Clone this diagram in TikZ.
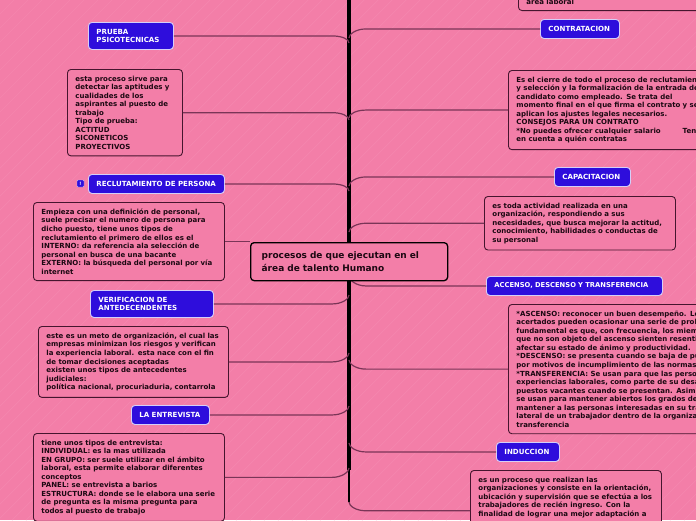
\documentclass[tikz,border=0pt]{standalone}
\usepackage{fontspec}
\setmainfont{DejaVu Sans}
\definecolor{bgpink}{HTML}{F37EA8}
\definecolor{stripe}{HTML}{F586AE}
\definecolor{topicblue}{HTML}{2E0DDC}
\definecolor{edgeline}{HTML}{7A3557}
\definecolor{boxline}{HTML}{45152E}
\definecolor{inkdark}{HTML}{1C0812}
\tikzset{
  txt/.style={font=\bfseries\fontsize{7}{8.55}\selectfont,text=inkdark,draw=boxline,line width=0.9pt,
    rounded corners=3.5pt,fill=bgpink,anchor=north west,align=left,inner xsep=8pt,inner ysep=6.3pt},
  topic/.style={font=\bfseries\fontsize{7.05}{8.55}\selectfont,text=white,draw=white!80!topicblue,line width=0.9pt,
    rounded corners=3.5pt,fill=topicblue,anchor=north west,align=left,inner xsep=8pt,inner ysep=0pt},
  central/.style={font=\bfseries\fontsize{9}{12.6}\selectfont,text=inkdark,draw=black,line width=1.3pt,
    rounded corners=3.5pt,fill=bgpink,anchor=north west,align=left,inner xsep=11pt,inner ysep=6pt},
  trunk/.style={draw=black,line width=3.2pt},
  trunkend/.style={draw=black,line width=1.8pt},
  edge/.style={draw=edgeline,line width=1.2pt},
}
\begin{document}
\begin{tikzpicture}[x=1pt,y=-1pt]
\useasboundingbox (0,0) rectangle (696,520);
\clip (0,0) rectangle (696,520);
\fill[bgpink] (0,0) rectangle (696,520);
\foreach \k in {0,14,...,1232}
  \draw[stripe,line width=0.7pt] (\k-520,520) -- (\k,0);

% trunk
\draw[trunk] (349,-2) -- (349,242);
\draw[trunk] (349,280) -- (349,470);
\coordinate (te) at (349,470);
\coordinate (tb) at (349,502);
\draw[trunkend] (te) -- (tb);

% nodes, left side
\node[topic,text width=69pt,minimum height=27pt] (pp) at (88,22) {PRUEBA\\PSICOTECNICAS};
\node[txt,text width=99pt] (ppt) at (67,69) {esta proceso sirve para\\detectar las aptitudes y\\cualidades de los\\aspirantes al puesto de\\trabajo\\Tipo de prueba:\\ACTITUD\\SICONETICOS\\PROYECTIVOS};
\node[topic,text width=120pt,minimum height=19pt] (rp) at (88,174) {RECLUTAMIENTO DE PERSONA};
\node[draw=white!70!topicblue,fill=topicblue,rounded corners=1pt,line width=0.4pt,minimum size=7pt,inner sep=0pt,text=white,font=\bfseries\fontsize{4.5}{5}\selectfont] (ic) at (80.5,183.5) {!};
\node[txt,text width=175pt] (rpt) at (33,202) {Empieza con una definición de personal,\\suele precisar el numero de persona para\\dicho puesto, tiene unos tipos de\\reclutamiento el primero de ellos es el\\INTERNO: da referencia ala selección de\\personal en busca de una bacante\\EXTERNO: la búsqueda del personal por vía\\internet};
\node[topic,text width=107pt,minimum height=27pt] (va) at (90,290) {VERIFICACION DE\\ANTEDECENDENTES};
\node[txt,text width=174pt] (vat) at (38,326) {este es un meto de organización, el cual las\\empresas minimizan los riesgos y verifican\\la experiencia laboral. esta nace con el fin\\de tomar decisiones aceptadas\\existen unos tipos de antecedentes\\judiciales:\\política nacional, procuriaduria, contarrola};
\node[topic,text width=62pt,minimum height=19pt] (le) at (131,405) {LA ENTREVISTA};
\node[txt,text width=175pt] (let) at (33,433) {tiene unos tipos de entrevista:\\INDIVIDUAL: es la mas utilizada\\EN GRUPO: ser suele utilizar en el ámbito\\laboral, esta permite elaborar diferentes\\conceptos\\PANEL: se entrevista a barios\\ESTRUCTURA: donde se le elabora una serie\\de pregunta es la misma pregunta para\\todos al puesto de trabajo};

% nodes, right side
\node[txt,anchor=south west,text width=190pt] (top) at (518,11) {área laboral};
\node[topic,text width=63pt,minimum height=19pt] (co) at (540,19) {CONTRATACION};
\node[txt,text width=200pt] (cot) at (508,70) {Es el cierre de todo el proceso de reclutamiento\\y selección y la formalización de la entrada del\\candidato como empleado. Se trata del\\momento final en el que firma el contrato y se\\aplican los ajustes legales necesarios.\\CONSEJOS PARA UN CONTRATO\\{}*No puedes ofrecer cualquier salario\hspace{22pt}Tener\\en cuenta a quién contratas};
\node[topic,text width=60pt,minimum height=19pt] (ca) at (554,167) {CAPACITACION};
\node[txt,text width=175pt] (cat) at (484,196) {es toda actividad realizada en una\\organización, respondiendo a sus\\necesidades, que busca mejorar la actitud,\\conocimiento, habilidades o conductas de\\su personal};
\node[topic,text width=160pt,minimum height=19pt,font=\bfseries\fontsize{6.75}{8.55}\selectfont] (ad) at (486,276) {ACCENSO, DESCENSO Y TRANSFERENCIA};
\node[txt,text width=240pt] (adt) at (508,304) {*ASCENSO: reconocer un buen desempeño. Los\\acertados pueden ocasionar una serie de problemas\\fundamental es que, con frecuencia, los miembros\\que no son objeto del ascenso sienten resentimiento\\afectar su estado de ánimo y productividad.\\{}*DESCENSO: se presenta cuando se baja de puesto\\por motivos de incumplimiento de las normas\\{}*TRANSFERENCIA: Se usan para que las personas\\experiencias laborales, como parte de su desarrollo\\puestos vacantes cuando se presentan. Asimismo\\se usan para mantener abiertos los grados de\\mantener a las personas interesadas en su trabajo\\lateral de un trabajador dentro de la organización\\transferencia};
\node[topic,text width=47pt,minimum height=19pt] (in) at (496,442) {INDUCCION};
\node[txt,text width=175pt] (int) at (470,470) {es un proceso que realizan las\\organizaciones y consiste en la orientación,\\ubicación y supervisión que se efectúa a los\\trabajadores de recién ingreso. Con la\\finalidad de lograr una mejor adaptación a\\[20pt]\mbox{}};

\coordinate (lk) at (332,0);
\coordinate (rk) at (366,0);
% connectors, left
\coordinate (t1) at (349,43);
\coordinate (t2) at (349,120);
\coordinate (t3) at (349,191);
\coordinate (t4) at (349,295);
\coordinate (t5) at (349,353);
\coordinate (t6) at (349,406);
\coordinate (t7) at (349,468);
\draw[edge] (pp.east) -- (pp.east -| lk) .. controls +(10,0) and +(0,-4) .. (t1);
\draw[edge] (ppt.east) -- (ppt.east -| lk) .. controls +(10,0) and +(0,-4) .. (t2);
\draw[edge] (rp.east) -- (rp.east -| lk) .. controls +(10,0) and +(0,-4) .. (t3);
\draw[edge] (va.east) -- (va.east -| lk) .. controls +(10,0) and +(0,4) .. (t4);
\draw[edge] (vat.east) -- (vat.east -| lk) .. controls +(10,0) and +(0,4) .. (t5);
\draw[edge] (le.east) -- (le.east -| lk) .. controls +(10,0) and +(0,4) .. (t6);
\draw[edge] (let.east) -- (let.east -| lk) .. controls +(10,0) and +(0,4) .. (t7);

% connectors, right
\coordinate (u1) at (349,38);
\coordinate (u2) at (349,118);
\coordinate (u3) at (349,186);
\coordinate (u4) at (349,232);
\coordinate (u5) at (349,276);
\coordinate (u6) at (349,360);
\coordinate (u7) at (349,443);
\draw[edge] (co.west) -- (co.west -| rk) .. controls +(-10,0) and +(0,-4) .. (u1);
\draw[edge] (cot.west) -- (cot.west -| rk) .. controls +(-10,0) and +(0,-4) .. (u2);
\draw[edge] (ca.west) -- (ca.west -| rk) .. controls +(-10,0) and +(0,-4) .. (u3);
\draw[edge] (cat.west) -- (cat.west -| rk) .. controls +(-10,0) and +(0,-4) .. (u4);
\draw[edge] (ad.west) -- (ad.west -| rk) .. controls +(-10,0) and +(0,4) .. (u5);
\draw[edge] (adt.west) -- (adt.west -| rk) .. controls +(-10,0) and +(0,4) .. (u6);
\draw[edge] (in.west) -- (in.west -| rk) .. controls +(-10,0) and +(0,4) .. (u7);
\draw[edge] (int.west) -- (int.west -| rk) .. controls +(-10,0) and +(0,4) .. (tb);

% central node, over the lines
\node[central,text width=175pt,minimum height=38pt] (main) at (250,242) {procesos de que ejecutan en el\\área de talento Humano};
\draw[edge] (rpt.east) -- (rpt.east -| main.west);
\end{tikzpicture}
\end{document}
